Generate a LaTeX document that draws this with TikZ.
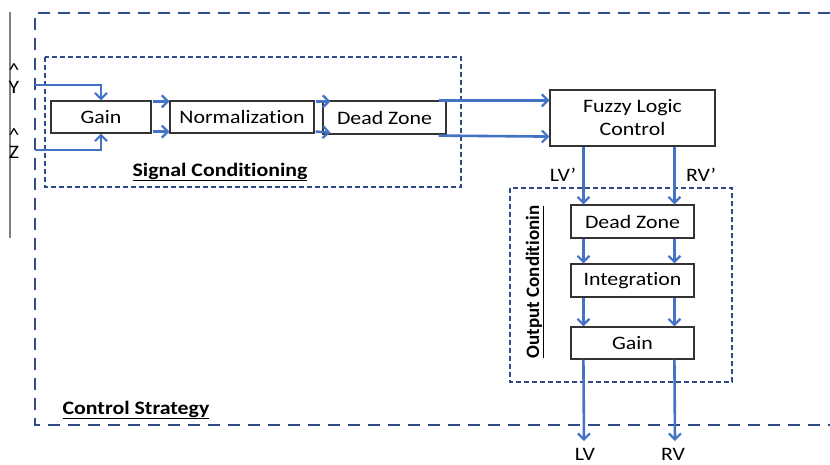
\documentclass[tikz,border=0pt]{standalone}
\usepackage{fontspec}
\setmainfont{Carlito}[FakeStretch=1.15,Ligatures=NoCommon]
\newfontfamily\rotfont{Carlito}[Ligatures=NoCommon]
\usetikzlibrary{arrows.meta,calc}
\definecolor{arrblue}{HTML}{4472C4}
\definecolor{navy}{HTML}{2F4B88}
\tikzset{
  blk/.style={draw=black!80, line width=1.2pt, fill=white, inner sep=0pt, font=\fontsize{19}{23}\selectfont},
  arr/.style={draw=arrblue, line width=2.6pt, -{Straight Barb[length=6pt,width=12pt,line width=2.2pt]}},
  outerdash/.style={draw=navy, line width=2.4pt, dash pattern=on 12pt off 8pt},
  innerdash/.style={draw=navy, line width=1.8pt, dash pattern=on 5pt off 3pt},
  lbl/.style={font=\fontsize{19}{23}\selectfont, inner sep=0pt},
  ttl/.style={font=\fontsize{19}{23}\selectfont\bfseries, inner sep=0pt},
}
\begin{document}
\begin{tikzpicture}[x=1pt,y=-1pt]
\useasboundingbox (0,0) rectangle (830,465);
% gray axis line
\draw[gray, line width=2pt] (10,12) -- (10,238);
% outer dashed frame
\draw[outerdash] (830,13) -- (35,13) -- (35,425) -- (830,425);
% inner dashed frames
\draw[innerdash] (45,57) rectangle (461,187);
\draw[innerdash] (510,188) rectangle (732,382);
% blocks
\node[blk, minimum width=100pt, minimum height=32pt] (gain1) at (101,117) {Gain};
\node[blk, minimum width=144pt, minimum height=32pt] (norm) at (242,117) {Normalization};
\node[blk, minimum width=123pt, minimum height=33pt] (dz1) at (384.5,117.5) {Dead Zone};
\node[blk, minimum width=165pt, minimum height=56pt, align=center] (flc) at (632.5,118) {Fuzzy Logic\\Control};
\node[blk, minimum width=123pt, minimum height=33pt] (dz2) at (632.5,221.5) {Dead Zone};
\node[blk, minimum width=123pt, minimum height=33pt] (integ) at (632.5,280.5) {Integration};
\node[blk, minimum width=123pt, minimum height=32pt] (gain2) at (632.5,343) {Gain};
% inputs
\node[lbl] (ycar) at (14,70) {\textasciicircum};
\node[lbl] (ylab) at (14,87) {Y};
\node[lbl] (zcar) at (14,135) {\textasciicircum};
\node[lbl] (zlab) at (14,152) {Z};
\coordinate (yin) at (35,85);
\coordinate (zin) at (35,150);
\draw[arr] (yin) -| (gain1.north);
\draw[arr] (zin) -| (gain1.south);
% gain -> normalization
\draw[arr] ($(gain1.north east)+(1,1)$) -- ($(norm.north west)+(0,1)$);
\draw[arr] ($(gain1.south east)+(1,-2)$) -- ($(norm.south west)+(0,-2)$);
% normalization -> dead zone
\draw[arr] ($(norm.north east)+(1,1)$) -- ($(dz1.north west)+(8,1)$);
\draw[arr] ($(norm.south east)+(1,-2)$) -- ($(dz1.south west)+(8,-2)$);
% dead zone -> fuzzy
\draw[arr] ($(dz1.north east)+(-8,0)$) -- ($(flc.north west)+(0,11)$);
\draw[arr] ($(dz1.south east)+(-8,1)$) -- ($(flc.south west)+(0,-10)$);
% fuzzy -> dead zone 2
\draw[arr] ($(flc.south west)+(34,0)$) -- ($(dz2.north west)+(13,0)$);
\draw[arr] ($(flc.south west)+(125,0)$) -- ($(dz2.north west)+(104,0)$);
\node[lbl] (lvp) at (563,175) {LV’};
\node[lbl] (rvp) at (701,175) {RV’};
% dead zone 2 -> integration
\draw[arr] ($(dz2.south west)+(13,0)$) -- ($(integ.north west)+(13,0)$);
\draw[arr] ($(dz2.south west)+(104,0)$) -- ($(integ.north west)+(104,0)$);
% integration -> gain 2
\draw[arr] ($(integ.south west)+(13,0)$) -- ($(gain2.north west)+(13,0)$);
\draw[arr] ($(integ.south west)+(104,0)$) -- ($(gain2.north west)+(104,0)$);
% outputs
\coordinate (lvout) at (584,441);
\coordinate (rvout) at (675,441);
\draw[arr] ($(gain2.south west)+(13,0)$) -- (lvout);
\draw[arr] ($(gain2.south west)+(104,0)$) -- (rvout);
\node[lbl] (lv) at (585,454) {LV};
\node[lbl] (rv) at (673,454) {RV};
% titles
\node[ttl] (sigc) at (220,172) {\underline{Signal Conditioning}};
\node[ttl] (ctrl) at (136,410) {\underline{Control Strategy}};
\node[inner sep=0pt, rotate=90, font=\rotfont\fontsize{19}{23}\selectfont\bfseries] (outc) at (535,282) {\underline{Output Conditionin}};
\end{tikzpicture}
\end{document}
